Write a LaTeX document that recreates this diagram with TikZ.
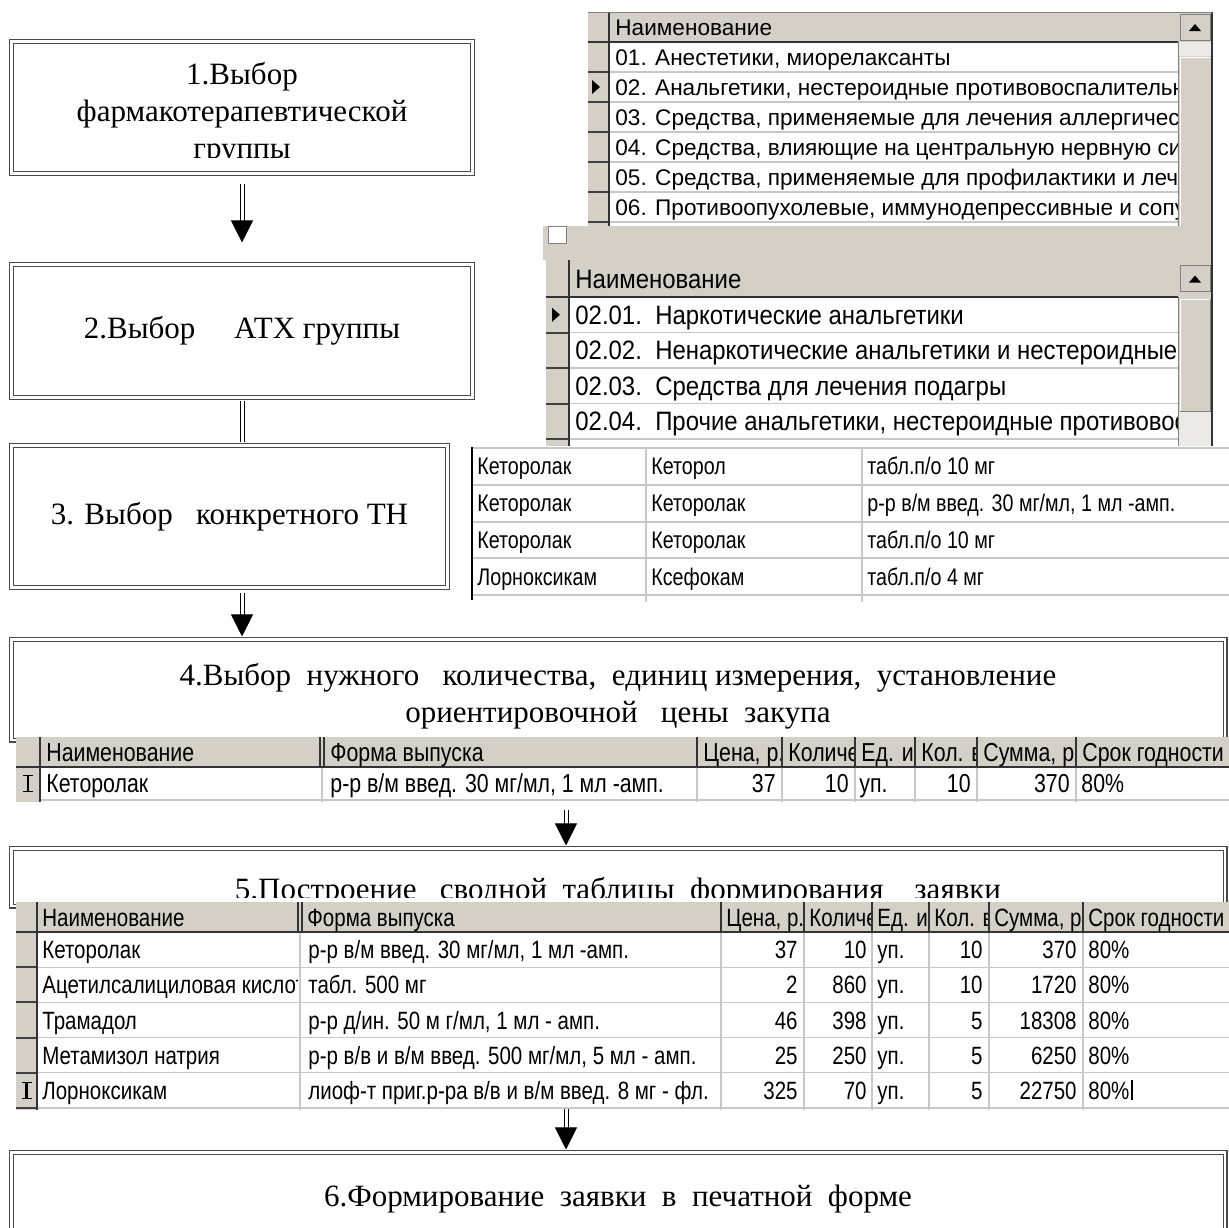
\documentclass[tikz,border=0pt]{standalone}
\usepackage{fontspec}
\setmainfont{Liberation Serif}
\newfontfamily\gridfont{Liberation Sans}
\newfontfamily\midfont[FakeStretch=0.9]{Liberation Sans}
\newfontfamily\condfont[FakeStretch=0.82]{Liberation Sans}
\usetikzlibrary{calc,fit,arrows.meta}

\definecolor{winface}{HTML}{D4D0C8}
\definecolor{winshade}{HTML}{808080}
\definecolor{gridgray}{HTML}{C8C8C8}
\definecolor{trackgray}{HTML}{ECEAE6}
\definecolor{boxline}{HTML}{4A4A4A}

\tikzset{
  stepbox/.style={draw=boxline, double=white, double distance=1.4pt, line width=0.55pt, fill=white, inner sep=0pt},
  steptext/.style={font=\fontsize{15.5}{18.6}\selectfont, align=center, inner sep=0pt},
  flowarrow/.style={draw=black, double=white, double distance=1.5pt, line width=0.5pt, -{Triangle[width=11pt,length=11pt]}},
  flowshaft/.style={draw=black, double=white, double distance=1.5pt, line width=0.5pt},
  listtext/.style={font=\gridfont\fontsize{11.3}{13}\selectfont, anchor=west, inner sep=0pt, text height=8.1pt, text depth=0pt},
  subtext/.style={font=\midfont\fontsize{13.3}{15}\selectfont, anchor=west, inner sep=0pt, text height=9.5pt, text depth=0pt},
  drugtext/.style={font=\condfont\fontsize{12}{14}\selectfont, anchor=west, inner sep=0pt, text height=8.6pt, text depth=0pt},
  ordtext/.style={font=\condfont\fontsize{13}{15}\selectfont, anchor=west, inner sep=0pt, text height=9.3pt, text depth=0pt},
  celltext/.style={font=\condfont\fontsize{12.5}{14}\selectfont, anchor=west, inner sep=0pt, text height=9pt, text depth=0pt},
  ordnum/.style={ordtext, anchor=east},
  numtext/.style={celltext, anchor=east},
  gridln/.style={draw=gridgray, line width=0.6pt},
  hsep/.style={draw=black!80, line width=1pt},
  cellsep/.style={draw=black!75, line width=1pt},
  ibeam/.pic={\draw[line width=1.1pt] (0,-8) -- (0,8); \draw[line width=0.9pt] (-5,-8) -- (5,-8) (-5,8) -- (5,8);},
  rowmark/.pic={\fill (-4,-7) -- (-4,7) -- (4,0) -- cycle;},
  upbtn/.pic={\draw[winshade, fill=winface] (-15,-13) rectangle (15,13); \fill (-6,4) -- (6,4) -- (0,-3) -- cycle;}
}

\begin{document}
\begin{tikzpicture}[x=0.5pt, y=-0.5pt]
\useasboundingbox (0,0) rectangle (1229,1227);
\clip (0,0) rectangle (1229,1227);
\fill[white] (0,0) rectangle (1229,1227);

\node[stepbox, fit={(11.5,41.5) (472.5,173.5)}] (b1) {};
\node[stepbox, fit={(11.5,264.5) (472.5,397.5)}] (b2) {};
\node[stepbox, fit={(11.5,445.5) (447.5,587.5)}] (b3) {};
\node[stepbox, fit={(11.5,639.5) (1225,740)}] (b4) {};
\node[stepbox, fit={(11.5,848.5) (1225,906)}] (b5) {};
\node[stepbox, fit={(11.5,1152.5) (1225,1262)}] (b6) {};

\begin{scope}
  \clip (14,44) rectangle (470,157);
  \node[steptext] (t1) at (242,114) {1.Выбор\\фармакотерапевтической\\группы};
\end{scope}
\node[steptext] (t2) at (b2) {2.Выбор\ \ \ \ \ АТХ группы};
\node[steptext] (t3) at (b3) {3. Выбор\ \ \ конкретного ТН};
\node[steptext] (t4) at (618,696) {4.Выбор\ \ нужного\ \ \ количества,\ \ единиц измерения,\ \ установление\\ориентировочной\ \ \ цены\ \ закупа};
\begin{scope}
  \clip (14,851) rectangle (1222,897);
  \node[steptext, anchor=base] (t5) at (618,899) {5.Построение\ \ \ сводной\ \ таблицы\ \ формирования\ \ \ \ заявки};
\end{scope}
\node[steptext] (t6) at (618,1199) {6.Формирование\ \ заявки\ \ в\ \ печатной\ \ форме};

\fill[white] (588,12) rectangle (1212,226);
\fill[winface] (588,12) rectangle (1212,42);
\fill[winface] (588,42) rectangle (609,226);
\fill[trackgray] (1178,42) rectangle (1212,56);
\fill[winface] (1178,56) rectangle (1212,226);
\foreach \y in {72,102,132,162,192,222} {
  \draw[gridln] (609,\y) -- (1178,\y);
  \draw[cellsep] (588,\y) -- (609,\y);
}
\draw[hsep] (588,42) -- (1178,42);
\draw[hsep] (609,12) -- (609,226);
\draw[winshade] (1178,42) -- (1178,226);
\draw[white] (1180,226) -- (1180,57) -- (1210,57);
\draw[hsep] (1212,12) -- (1212,226);
\draw[winshade] (588,12) -- (1212,12);
\node[listtext] (h1) at (615,27) {Наименование};
\pic at (1195,27) {upbtn};
\pic at (596,87) {rowmark};
\begin{scope}
  \clip (611,42) rectangle (1177,226);
  \foreach \t [count=\i] in {{01. Анестетики, миорелаксанты},{02. Анальгетики, нестероидные противовоспалительны},{03. Средства, применяемые для лечения аллергически},{04. Средства, влияющие на центральную нервную систе},{05. Средства, применяемые для профилактики и лечен},{06. Противоопухолевые, иммунодепрессивные и сопут}}
    \node[listtext] (g\i) at (615,{42+30*(\i-0.5)}) {\t};
\end{scope}

\fill[winface] (543,226) rectangle (1212,260);
\draw[winshade, fill=white] (548,226) rectangle (566,243);
\draw[hsep] (1212,226) -- (1212,260);

\fill[white] (546,260) rectangle (1212,446);
\fill[winface] (546,260) rectangle (1212,297);
\fill[winface] (546,297) rectangle (569,446);
\fill[winface] (1178,297) rectangle (1212,412);
\fill[trackgray] (1178,412) rectangle (1212,446);
\foreach \y in {332.5,368,403.5,439} {
  \draw[gridln] (569,\y) -- (1178,\y);
  \draw[cellsep] (546,\y) -- (569,\y);
}
\draw[hsep] (546,297) -- (1178,297);
\draw[hsep] (569,260) -- (569,446);
\draw[winshade] (1178,297) -- (1178,446);
\draw[white] (1180,411) -- (1180,299) -- (1210,299);
\draw[winshade] (1180,411) -- (1210,411) -- (1210,299);
\draw[hsep] (1212,260) -- (1212,446);
\node[subtext] (h2) at (575,278.5) {Наименование};
\pic at (1195,278.5) {upbtn};
\pic at (556,314.75) {rowmark};
\begin{scope}
  \clip (571,297) rectangle (1177,446);
  \foreach \t [count=\i] in {{02.01.\ \ Наркотические анальгетики},{02.02.\ \ Ненаркотические анальгетики и нестероидные},{02.03.\ \ Средства для лечения подагры},{02.04.\ \ Прочие анальгетики, нестероидные противовосп}}
    \node[subtext] (s\i) at (575,{297+35.5*(\i-0.5)}) {\t};
\end{scope}

\fill[white] (472,447) rectangle (1229,602);
\foreach \y in {448,485,522,558,595} \draw[gridln] (472,\y) -- (1229,\y);
\foreach \x in {646,862} \draw[gridln] (\x,447) -- (\x,602);
\draw[line width=1pt] (472,447) -- (472,600);
\foreach \a/\b/\c [count=\i] in {Кеторолак/Кеторол/{табл.п/о 10 мг},Кеторолак/Кеторолак/{р-р в/м введ. 30 мг/мл, 1 мл -амп.},Кеторолак/Кеторолак/{табл.п/о 10 мг},Лорноксикам/Ксефокам/{табл.п/о 4 мг}} {
  \node[drugtext] (d\i-a) at (477,{448+36.75*(\i-0.5)}) {\a};
  \node[drugtext] (d\i-b) at (651,{448+36.75*(\i-0.5)}) {\b};
  \node[drugtext] (d\i-c) at (867,{448+36.75*(\i-0.5)}) {\c};
}

\fill[white] (16,737) rectangle (1229,802);
\fill[winface] (16,737) rectangle (1229,767);
\fill[winface] (16,767) rectangle (40,802);
\draw[gridln] (40,800) -- (1229,800);
\foreach \x in {322,697,782,855,915,977,1076} \draw[gridln] (\x,767) -- (\x,802);
\foreach \x in {40,320,324,697,782,855,915,977,1076} \draw[hsep] (\x,737) -- (\x,767);
\draw[hsep] (16,767) -- (1229,767);
\draw[hsep] (40,767) -- (40,802);
\foreach \xa/\xb/\h [count=\k] in {40/318/Наименование,324/697/{Форма выпуска},697/782/{Цена, р.},782/855/Количе,855/915/{Ед. из},915/977/{Кол. в},977/1076/{Сумма, р},1076/1229/{Срок годности}} {
  \begin{scope}
    \clip (\xa+2,737) rectangle (\xb-2,767);
    \node[ordtext] (p\k) at (\xa+6,752) {\h};
  \end{scope}
}
\pic at (28,783.5) {ibeam};
\node[ordtext] (o1) at (46,783.5) {Кеторолак};
\node[ordtext] (o2) at (330,783.5) {р-р в/м введ. 30 мг/мл, 1 мл -амп.};
\node[ordnum] (o3) at (776,783.5) {37};
\node[ordnum] (o4) at (849,783.5) {10};
\node[ordtext] (o5) at (859,783.5) {уп.};
\node[ordnum] (o6) at (971,783.5) {10};
\node[ordnum] (o7) at (1070,783.5) {370};
\node[ordtext] (o8) at (1081,783.5) {80\%};
\node[fit={(16,737) (1229,800)}, inner sep=0pt] (tab4) {};

\fill[white] (16,902) rectangle (1229,1110);
\fill[winface] (16,902) rectangle (1229,932);
\fill[winface] (16,932) rectangle (37,1110);
\foreach \x in {300,721,804,872,929,989,1083} \draw[gridln] (\x,932) -- (\x,1110);
\foreach \i in {1,...,5} {
  \draw[gridln] (37,{932+35.2*\i}) -- (1229,{932+35.2*\i});
  \draw[cellsep] (16,{932+35.2*\i}) -- (37,{932+35.2*\i});
}
\foreach \x in {37,298,302,721,804,872,929,989,1083} \draw[hsep] (\x,902) -- (\x,932);
\draw[hsep] (16,932) -- (1229,932);
\draw[hsep] (37,932) -- (37,1110);
\foreach \xa/\xb/\h [count=\k] in {37/296/Наименование,302/721/{Форма выпуска},721/804/{Цена, р.},804/872/Количе,872/929/{Ед. из},929/989/{Кол. в},989/1083/{Сумма, р},1083/1229/{Срок годности}} {
  \begin{scope}
    \clip (\xa+2,902) rectangle (\xb-2,932);
    \node[celltext] (q\k) at (\xa+5,917) {\h};
  \end{scope}
}
\foreach \na/\fo/\pr/\qt/\un/\pk/\su/\sh [count=\i] in {Кеторолак/{р-р в/м введ. 30 мг/мл, 1 мл -амп.}/37/10/уп./10/370/80\%,Ацетилсалициловая кислот/{табл. 500 мг}/2/860/уп./10/1720/80\%,Трамадол/{р-р д/ин. 50 м г/мл, 1 мл - амп.}/46/398/уп./5/18308/80\%,Метамизол натрия/{р-р в/в и в/м введ. 500 мг/мл, 5 мл - амп.}/25/250/уп./5/6250/80\%,Лорноксикам/{лиоф-т приг.р-ра в/в и в/м введ. 8 мг - фл.}/325/70/уп./5/22750/80\%} {
  \pgfmathsetmacro\yr{932+35.2*(\i-0.5)}
  \begin{scope}
    \clip (38,\yr-17) rectangle (297,\yr+17);
    \node[celltext] (r\i-a) at (42,\yr) {\na};
  \end{scope}
  \node[celltext] (r\i-b) at (308,\yr) {\fo};
  \node[numtext] (r\i-c) at (798,\yr) {\pr};
  \node[numtext] (r\i-d) at (867,\yr) {\qt};
  \node[celltext] (r\i-e) at (877,\yr) {\un};
  \node[numtext] (r\i-f) at (983,\yr) {\pk};
  \node[numtext] (r\i-g) at (1077,\yr) {\su};
  \node[celltext] (r\i-h) at (1088,\yr) {\sh};
}
\pic at (26.5,1090.4) {ibeam};
\draw[line width=0.8pt] (r5-h.east) ++(2,-10) -- ++(0,20);
\node[fit={(16,902) (1229,1108)}, inner sep=0pt] (tab5) {};

\coordinate (lane) at (566,0);
\draw[flowarrow, shorten <=4.75pt, shorten >=10.75pt] (b1.south) -- (b2.north);
\draw[flowshaft, shorten <=1.5pt, shorten >=1.25pt] (b2.south) -- (b2.south |- b3.north);
\draw[flowarrow, shorten <=2.25pt, shorten >=1.25pt] (b3.south -| b2.south) -- (b4.north -| b2.south);
\draw[flowarrow, shorten <=5pt, shorten >=1.25pt] (tab4.south -| lane) -- (b5.north -| lane);
\draw[flowarrow, shorten <=0.5pt, shorten >=1.25pt] (tab5.south -| lane) -- (b6.north -| lane);
\end{tikzpicture}
\end{document}
